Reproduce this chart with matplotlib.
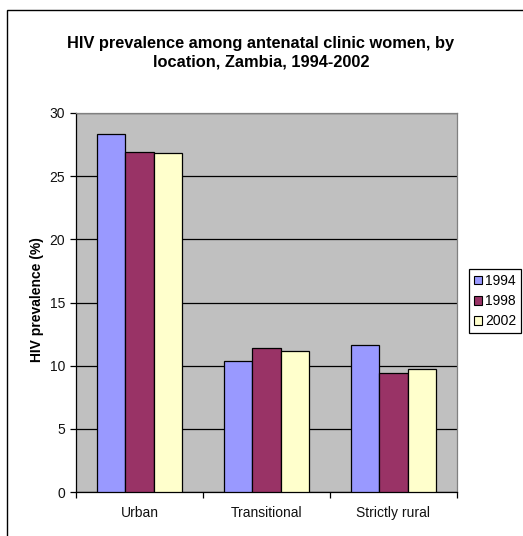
import numpy as np
import matplotlib
matplotlib.use("Agg")
import matplotlib.pyplot as plt
from matplotlib.patches import Rectangle, Patch

plt.rcParams["font.family"] = ["Liberation Sans", "DejaVu Sans"]

# data
locations = ["Urban", "Transitional", "Strictly rural"]
years = ["1994", "1998", "2002"]
prev_1994 = [28.3, 10.4, 11.6]
prev_1998 = [26.9, 11.4, 9.4]
prev_2002 = [26.8, 11.2, 9.7]
yticks = [0, 5, 10, 15, 20, 25, 30]

colors = ["#9999FF", "#993366", "#FFFFCC"]

W, H = 523, 536
fig = plt.figure(figsize=(W / 100, H / 100), dpi=100)
fig.patch.set_facecolor("white")

# plot area in pixels: x 76..457, y 113..492 (from top)
ax = fig.add_axes([76 / W, 1 - 492 / H, 381 / W, 379 / H])
ax.set_facecolor("#C0C0C0")

x = np.arange(len(locations))
w = 1 / 4.5
series = [prev_1994, prev_1998, prev_2002]
for i, (vals, c, lab) in enumerate(zip(series, colors, years)):
    ax.bar(x + (i - 1) * w, vals, width=w, color=c, edgecolor="black",
           linewidth=0.9, label=lab, zorder=3)

ax.set_xlim(-0.5, len(locations) - 0.5)
ax.set_ylim(0, 30)
ax.set_yticks(yticks)
ax.yaxis.grid(True, color="black", linewidth=0.9, zorder=1)
ax.set_axisbelow(True)

# category boundary ticks, labels centered on minor ticks
ax.set_xticks(np.arange(len(locations) + 1) - 0.5)
ax.set_xticklabels([])
ax.set_xticks(x, minor=True)
ax.set_xticklabels(locations, minor=True)
ax.tick_params(axis="x", which="major", direction="out", length=4, width=0.9)
ax.tick_params(axis="x", which="minor", length=0, pad=10, labelsize=10,
               labelcolor="#111111")
ax.tick_params(axis="y", direction="out", length=4, width=0.9, pad=4,
               labelsize=10, labelcolor="#111111")

for s in ["top", "right"]:
    ax.spines[s].set_color("#808080")
for s in ["left", "bottom"]:
    ax.spines[s].set_color("black")
for s in ax.spines.values():
    s.set_linewidth(0.9)

fig.text(37 / W, 1 - 300 / H, "HIV prevalence (%)", rotation=90,
         ha="center", va="center", fontsize=10, fontweight="bold")

fig.text(261 / W, 1 - 52.5 / H,
         "HIV prevalence among antenatal clinic women, by\nlocation, Zambia, 1994-2002",
         ha="center", va="center", fontsize=11.75, fontweight="bold",
         linespacing=1.3)

handles = [Patch(facecolor=c, edgecolor="black", linewidth=0.8) for c in colors]
leg = fig.legend(handles, years, loc="upper left",
                 bbox_to_anchor=(469 / W, 1 - 269 / H), borderaxespad=0,
                 fontsize=10, frameon=True, fancybox=False, framealpha=1,
                 handlelength=0.6, handleheight=0.6, handletextpad=0.2,
                 labelspacing=0.45, borderpad=0.35)
leg.get_frame().set_edgecolor("black")
leg.get_frame().set_linewidth(0.9)

# outer chart border (left and top edges visible)
fig.add_artist(Rectangle((7 / W, -0.1), 1.2, 1 - 10 / H + 0.1, fill=False,
                         edgecolor="black", linewidth=1.0,
                         transform=fig.transFigure, clip_on=False))

fig.savefig("out.png", dpi=100, facecolor="white")
